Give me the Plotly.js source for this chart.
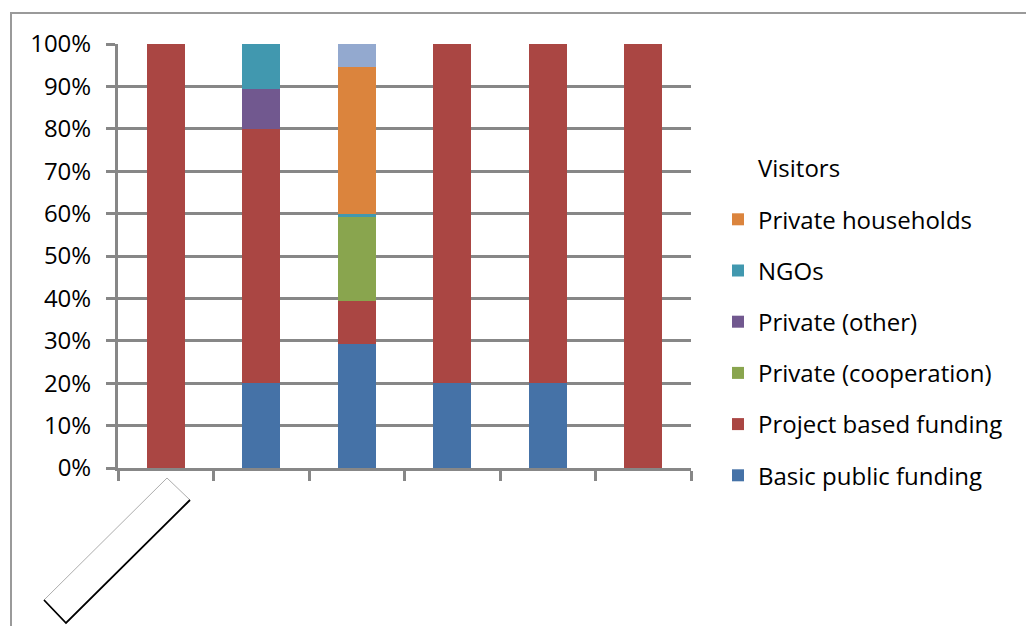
<!DOCTYPE html>
<html><head><meta charset="utf-8">
<script src="https://cdn.plot.ly/plotly-3.0.1.min.js"></script>
<style>body{margin:0;background:#fff}#c{width:1026px;height:626px}</style>
</head><body><div id="c"></div>
<script>
var categories = ['1','2','3','4','5','6'];
var seriesNames = ['Basic public funding','Project based funding','Private (cooperation)','Private (other)','NGOs','Private households','Visitors'];
var basicPublic   = [0, 20, 29.2, 20, 20, 0];
var projectBased  = [100, 60, 10.1, 80, 80, 100];
var privateCoop   = [0, 0, 19.8, 0, 0, 0];
var privateOther  = [0, 9.4, 0, 0, 0, 0];
var ngos          = [0, 10.6, 0.9, 0, 0, 0];
var households    = [0, 0, 34.5, 0, 0, 0];
var visitors      = [0, 0, 5.5, 0, 0, 0];
var colors = ['#4572A7','#AA4643','#89A54E','#71588F','#4198AF','#DB843D','#93A9CF'];
var values = [basicPublic, projectBased, privateCoop, privateOther, ngos, households, visitors];

var traces = values.map(function(v,i){
  return {type:'bar', x:categories, y:v, name:seriesNames[i], legendgroup:'g'+i, legendrank: 10-i,
    marker:{color:colors[i], line:{width:0}}, width:0.4, hoverinfo:'skip',
    showlegend: i<6};
});
// legend entry for Visitors (no visible swatch, as in the reference)
traces.push({type:'bar', x:categories, y:[null,null,null,null,null,null], name:'Visitors',
  legendgroup:'g6', legendrank: 1, marker:{color:'rgba(0,0,0,0)'}, hoverinfo:'skip', showlegend:true});

var L=118, R=691, T=44, B=468;
function px(x){return (x-L)/(R-L);}
function py(y){return (B-y)/(B-T);}
var grey='#878787';
var shapes=[
  {type:'line',xref:'paper',yref:'paper',x0:px(10),y0:py(13),x1:px(1030),y1:py(13),line:{color:'#9a9a9a',width:2}},
  {type:'line',xref:'paper',yref:'paper',x0:px(11),y0:py(13),x1:px(11),y1:py(640),line:{color:'#9a9a9a',width:2}},
  {type:'path',xref:'paper',yref:'paper',
   path:'M '+px(167)+' '+py(478)+' L '+px(190)+' '+py(500)+' L '+px(66)+' '+py(623)+' L '+px(44)+' '+py(600)+' Z',
   line:{color:'#888',width:0.7}, fillcolor:'#fff'},
  {type:'path',xref:'paper',yref:'paper',
   path:'M '+px(190)+' '+py(500)+' L '+px(66)+' '+py(623)+' L '+px(44)+' '+py(600),
   line:{color:'#000',width:1.8}}
];

var layout={
  width:1026, height:626, margin:{l:L,r:1026-R,t:T,b:626-B,pad:0},
  paper_bgcolor:'#fff', plot_bgcolor:'#fff', barmode:'stack', bargap:0.6,
  font:{family:'"Open Sans", sans-serif', color:'#000'},
  xaxis:{type:'category', showticklabels:false, showgrid:false, showline:true, linecolor:grey, linewidth:3,
    ticks:'outside', tickson:'boundaries', ticklen:10, tickwidth:3, tickcolor:grey, fixedrange:true},
  yaxis:{range:[0,100], dtick:10, ticksuffix:'%', showgrid:true, gridcolor:grey, gridwidth:3,
    showline:true, linecolor:grey, linewidth:3, ticks:'outside', ticklen:9, tickwidth:3, tickcolor:grey,
    ticklabelstandoff:10,
    tickfont:{size:24, family:'"Open Sans", sans-serif'}, zeroline:false, fixedrange:true},
  showlegend:true,
  legend:{x:px(718), y:py(146), xanchor:'left', yanchor:'top', traceorder:'grouped',
    tracegroupgap:17, font:{size:24, family:'"Open Sans", sans-serif'}, bgcolor:'rgba(0,0,0,0)', itemwidth:30},
  shapes:shapes
};
Plotly.newPlot('c', traces, layout, {displayModeBar:false, staticPlot:true});
</script></body></html>
